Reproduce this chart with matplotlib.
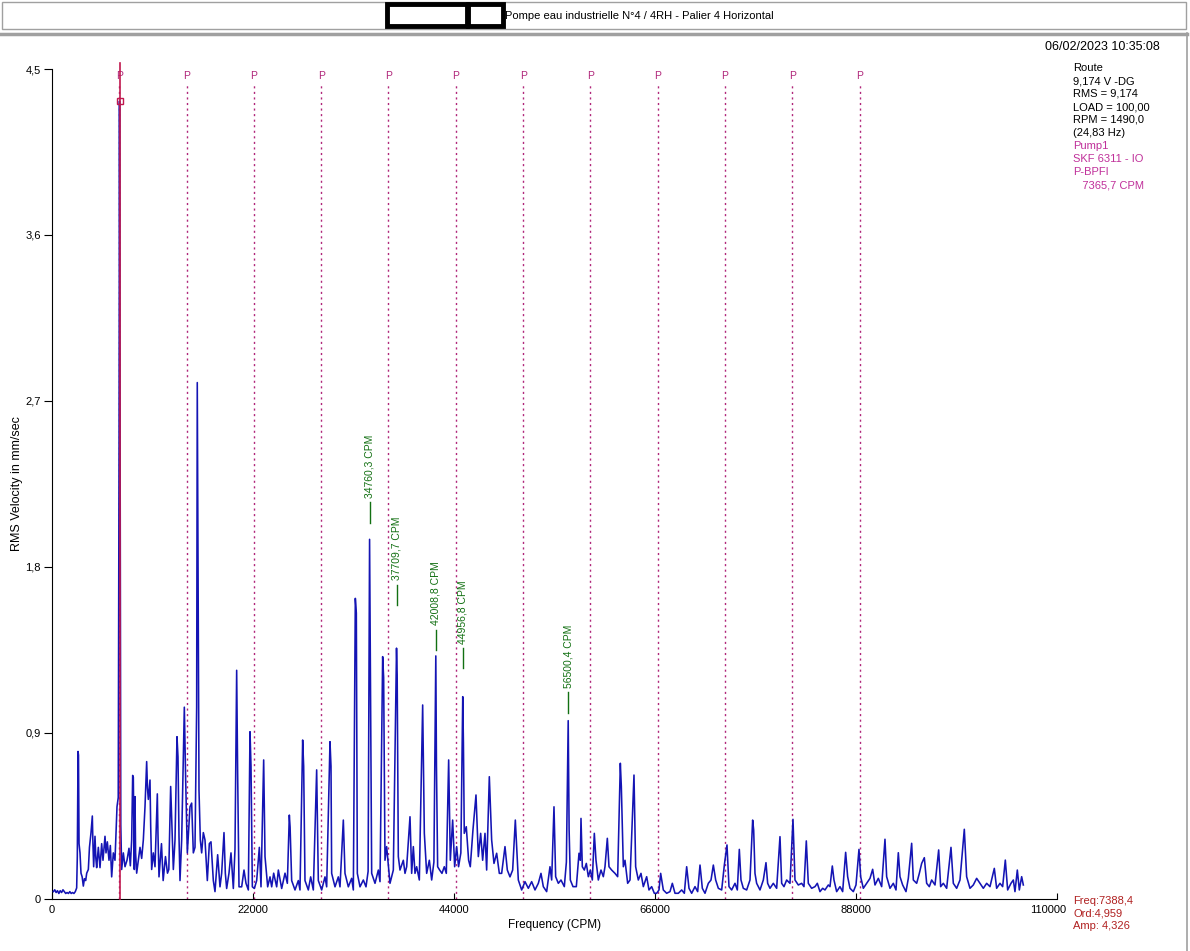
import numpy as np
import matplotlib.pyplot as plt
import matplotlib.transforms as mtransforms
from matplotlib.patches import Rectangle
from matplotlib.lines import Line2D

plt.rcParams['font.family'] = ['Liberation Sans', 'DejaVu Sans']

# Spectrum (CPM, mm/s RMS)
freq_cpm = [
    150, 300, 450, 600, 750, 900, 1050, 1200, 1350, 1500, 1650, 1800, 1950, 2100, 2250, 2400, 2550, 2700,
    2770, 2850, 2900, 2960, 3065, 3174, 3300, 3429, 3550, 3685, 3800, 3977, 4100, 4269, 4414, 4480, 4560,
    4706, 4800, 4889, 5071, 5254, 5436, 5582, 5801, 5910, 6056, 6239, 6385, 6531, 6713, 6895, 7114, 7250,
    7340, 7388, 7440, 7530, 7625, 7807, 7990, 8209, 8427, 8574, 8720, 8829, 8900, 9010, 9085, 9150, 9267,
    9450, 9632, 9814, 9996, 10179, 10361, 10450, 10544, 10726, 10800, 10909, 11091, 11274, 11528, 11600,
    11711, 11983, 12166, 12420, 12640, 12786, 12988, 13100, 13280, 13463, 13681, 13790, 13900, 14010,
    14193, 14484, 14630, 14812, 15104, 15286, 15469, 15651, 15833, 15900, 16089, 16235, 16381, 16563,
    16746, 17001, 17220, 17402, 17657, 17840, 18132, 18387, 18570, 18825, 18971, 19117, 19372, 19591,
    19847, 20029, 20212, 20320, 20468, 20760, 21015, 21234, 21490, 21672, 21782, 21928, 22147, 22402,
    22694, 22876, 23168, 23314, 23606, 23862, 24044, 24263, 24591, 24774, 25139, 25504, 25759, 25976,
    26060, 26232, 26597, 26961, 27143, 27435, 27545, 27690, 28055, 28311, 28603, 28968, 29150, 29515,
    29880, 30063, 30427, 30537, 30610, 30975, 31340, 31522, 31887, 32069, 32434, 32799, 32982, 33200,
    33310, 33419, 33711, 34076, 34368, 34600, 34760, 34840, 34989, 35354, 35719, 35901, 36191, 36300,
    36447, 36629, 36994, 37359, 37709, 37780, 37906, 38089, 38454, 38637, 38819, 39184, 39366, 39548,
    39731, 39913, 40205, 40570, 40753, 41008, 41300, 41556, 41800, 42009, 42080, 42209, 42428, 42683,
    42939, 43158, 43415, 43596, 43852, 44071, 44290, 44500, 44750, 44957, 45030, 45125, 45344, 45600,
    45782, 46074, 46407, 46662, 46918, 47136, 47392, 47574, 47866, 48121, 48377, 48669, 48961, 49216,
    49581, 49836, 50128, 50420, 50712, 51040, 51405, 51770, 52135, 52500, 52865, 53230, 53521, 53776,
    54141, 54506, 54690, 54944, 55126, 55418, 55710, 56075, 56300, 56500, 56600, 56732, 57024, 57389,
    57681, 57827, 57899, 58045, 58264, 58483, 58702, 58921, 59140, 59358, 59541, 59796, 60088, 60344,
    60526, 60782, 60964, 61256, 61621, 61913, 62205, 62315, 62534, 62716, 63008, 63264, 63700, 63882,
    64174, 64466, 64722, 65087, 65342, 65634, 65926, 66182, 66437, 66620, 66911, 67276, 67641, 67897,
    68189, 68554, 68919, 69211, 69466, 69722, 70013, 70378, 70670, 70926, 71181, 71473, 71838, 72130,
    72385, 72641, 72933, 73298, 73590, 73879, 74098, 74390, 74755, 75010, 75229, 75411, 75667, 76032,
    76397, 76688, 76800, 76944, 77126, 77491, 77856, 78147, 78330, 78585, 78950, 79315, 79680, 79863,
    80118, 80410, 80775, 81102, 81321, 81686, 82051, 82306, 82561, 82780, 83145, 83510, 83766, 84058,
    84350, 84605, 84970, 85152, 85408, 85590, 85882, 86247, 86539, 86867, 87086, 87342, 87707, 87999,
    88326, 88509, 88801, 89166, 89531, 89823, 90078, 90443, 90808, 91172, 91355, 91720, 92085, 92377,
    92632, 92815, 93107, 93472, 93727, 94092, 94275, 94640, 94931, 95187, 95479, 95734, 96026, 96282,
    96647, 97048, 97266, 97558, 97923, 98396, 98652, 99017, 99382, 99855, 100110, 100475, 100840,
    101205, 101570, 101935, 102300, 102665, 103139, 103394, 103759, 104051, 104343, 104598, 104963,
    105219, 105400, 105657, 105876, 106132, 106314,
]
amp_mm_s = [
    .04, .05, .035, .045, .03, .045, .035, .05, .04, .03, .035, .03, .04, .03, .035, .03, .04, .06,
    .23, .80, .78, .30, .25, .14, .12, .07, .11, .10, .14, .16, .28, .36, .45, .30, .175,
    .34, .22, .17, .28, .17, .30, .21, .34, .25, .31, .21, .29, .12, .25, .21, .50, .55,
    2.45, 4.326, 2.93, .40, .16, .25, .175, .21, .275, .18, .32, .67, .66, .16, .555, .25, .14,
    .21, .28, .22, .32, .50, .745, .60, .54, .645, .40, .16, .25, .175, .57, .35,
    .12, .30, .10, .23, .14, .16, .61, .43, .16, .32, .88, .77, .34, .10,
    .32, 1.04, .645, .25, .50, .52, .25, .28, 1.04, 2.80, .59, .32, .25, .36,
    .32, .10, .30, .31, .10, .04, .24, .066, .14, .36, .14, .057, .14, .25,
    .057, .27, 1.24, .68, .066, .066, .157, .085, .049, .907, .72, .066, .057, .10,
    .28, .066, .754, .23, .066, .12, .066, .14, .066, .157, .057, .14, .085, .455,
    .39, .10, .049, .10, .049, .862, .72, .10, .049, .12, .049, .70, .10, .049,
    .12, .066, .853, .72, .139, .066, .12, .066, .428, .139, .066, .112, .049, 1.63,
    1.55, .139, .066, .103, .066, .15, 1.95, 1.33, .139, .085, .157, .094, 1.314, 1.2,
    .21, .284, .085, .157, 1.36, 1.215, .23, .157, .21, .139, .175, .446, .139, .284,
    .139, .175, .103, 1.052, .356, .139, .21, .103, .2, 1.318, .72, .175, .157, .139,
    .175, .139, .754, .21, .428, .175, .284, .175, .25, 1.097, .85, .356, .392, .21,
    .175, .374, .564, .23, .356, .21, .356, .157, .663, .32, .193, .248, .139, .139,
    .284, .157, .12, .157, .428, .103, .049, .094, .058, .094, .049, .085, .139, .067,
    .04, .175, .103, .50, .121, .085, .103, .067, .2, .967, .374, .103, .067, .067,
    .248, .21, .437, .175, .157, .193, .121, .157, .103, .356, .21, .103, .157, .121,
    .175, .329, .175, .157, .139, .121, .736, .61, .175, .21, .085, .103, .672, .175,
    .103, .139, .067, .121, .049, .067, .031, .031, .049, .139, .049, .031, .04, .085,
    .031, .031, .049, .031, .175, .058, .031, .067, .04, .184, .058, .031, .085, .103,
    .184, .103, .058, .049, .184, .293, .067, .049, .085, .049, .269, .103, .058, .049,
    .103, .428, .374, .139, .085, .049, .103, .197, .085, .058, .085, .058, .338, .085,
    .067, .103, .085, .432, .103, .076, .085, .067, .315, .085, .058, .067, .085, .04,
    .058, .049, .076, .067, .179, .103, .04, .067, .04, .253, .121, .058, .04, .076,
    .269, .121, .058, .085, .112, .161, .076, .112, .067, .324, .121, .058, .085, .049,
    .251, .121, .076, .04, .112, .302, .103, .085, .139, .193, .224, .085, .067, .103,
    .076, .266, .067, .085, .058, .28, .085, .058, .103, .378, .121, .058, .076,
    .112, .085, .058, .085, .067, .166, .058, .085, .067, .211, .049, .085,
    .103, .04, .157, .049, .121, .076,
]

# Labelled peaks and the height of their green tags
peak_freqs = [34760.3, 37709.7, 42008.8, 44956.8, 56500.4]
peak_tag_base = [2.04, 1.594, 1.35, 1.25, 1.01]

bpfi_cpm = 7365.7
n_harmonics = 12
cursor_freq = 7388.4
cursor_amp = 4.326

xticks = [0, 22000, 44000, 66000, 88000, 110000]
yticks = [0, 0.9, 1.8, 2.7, 3.6, 4.5]
ytick_labels = ['0', '0,9', '1,8', '2,7', '3,6', '4,5']

title = 'Pompe eau industrielle N°4 / 4RH - Palier 4 Horizontal'
timestamp = '06/02/2023 10:35:08'
info_black = ['Route', '9,174 V -DG', 'RMS = 9,174', 'LOAD = 100,00', 'RPM = 1490,0', '(24,83 Hz)']
info_magenta = ['Pump1', 'SKF 6311 - IO', 'P-BPFI', '   7365,7 CPM']
cursor_info = ['Freq:7388,4', 'Ord:4,959', 'Amp: 4,326']

W, H = 1190, 951


def px(x, y):
    # pixel position from top-left -> figure fraction
    return x / W, 1 - y / H


fig = plt.figure(figsize=(W / 100, H / 100), dpi=100)
fig.patch.set_facecolor('white')

# header bar
fig.patches.append(Rectangle(px(2, 29), 1184 / W, 27 / H, transform=fig.transFigure,
                             facecolor='white', edgecolor='#a0a0a0', lw=1))
fig.patches.append(Rectangle(px(387, 26), 80 / W, 22 / H, transform=fig.transFigure,
                             facecolor='white', edgecolor='black', lw=3.5))
fig.patches.append(Rectangle(px(468, 26), 35 / W, 22 / H, transform=fig.transFigure,
                             facecolor='white', edgecolor='black', lw=3.5))
fig.text(*px(505, 19), title, fontsize=8, ha='left', va='baseline')
fig.add_artist(Line2D([0, 1187 / W], [1 - 33.5 / H] * 2, transform=fig.transFigure,
                      color='#a0a0a0', lw=2.5))
fig.add_artist(Line2D([1186.5 / W] * 2, [1 - 33 / H, 0], transform=fig.transFigure,
                      color='#a0a0a0', lw=1.2))

ax = fig.add_axes([52 / W, 52 / H, 1005 / W, 830 / H])
ax.plot(freq_cpm, amp_mm_s, color='#1414b4', lw=1.15, zorder=3)

# bearing fault harmonics
trans = mtransforms.blended_transform_factory(ax.transData, ax.transAxes)
magenta = '#b0267a'
for k in range(1, n_harmonics + 1):
    f = k * bpfi_cpm
    ax.axvline(f, ymax=0.981, color=magenta, lw=1, ls=(0, (1.5, 2.5)), zorder=2)
    ax.text(f, 0.9916, 'P', transform=trans, ha='center', va='center', color=magenta, fontsize=7.5)

# cursor
ax.axvline(cursor_freq, ymin=0, ymax=1.007, color='#c0184e', lw=1.2, clip_on=False, zorder=4)
ax.plot(cursor_freq, cursor_amp, 's', ms=5, mfc='none', mec='#c0184e', mew=1, zorder=5)

# peak tags
green = '#127012'
for f, base in zip(peak_freqs, peak_tag_base):
    ax.plot([f, f], [base, base + 0.11], color=green, lw=1, zorder=4)
    ax.text(f, base + 0.135, f'{f:.1f}'.replace('.', ',') + ' CPM', rotation=90,
            ha='center', va='bottom', color=green, fontsize=7.5)

ax.set_xlim(0, 110000)
ax.set_ylim(0, 4.5)
ax.spines['top'].set_visible(False)
ax.spines['right'].set_visible(False)
ax.set_xticks(xticks)
ax.set_xticklabels([str(t) for t in xticks])
ax.set_yticks(yticks)
ax.set_yticklabels(ytick_labels)
ax.tick_params(axis='x', direction='in', length=4, labelsize=8, pad=4)
ax.tick_params(axis='y', direction='out', length=6, labelsize=8, pad=2)
# last x label is pushed left so it stays clear of the cursor readout
last = ax.get_xticklabels()[-1]
last.set_transform(last.get_transform() + mtransforms.ScaledTranslation(-9 / 100, 0, fig.dpi_scale_trans))
ax.set_xlabel('Frequency (CPM)', fontsize=8.5, labelpad=3)
ax.set_ylabel('RMS Velocity in mm/sec', fontsize=9, labelpad=2)

# right side texts, placed on their baselines so the spacing stays even
fig.text(*px(1045, 50), timestamp, fontsize=9, va='baseline')
for i, s in enumerate(info_black):
    fig.text(*px(1073, 71 + 13 * i), s, fontsize=8, va='baseline')
for i, s in enumerate(info_magenta):
    fig.text(*px(1073, 71 + 13 * (i + 6)), s, fontsize=8, va='baseline', color='#c0309a')
for i, s in enumerate(cursor_info):
    fig.text(*px(1073, 904 + 12.5 * i), s, fontsize=8, va='baseline', color='#b02020')

fig.savefig('out.png', dpi=100)
